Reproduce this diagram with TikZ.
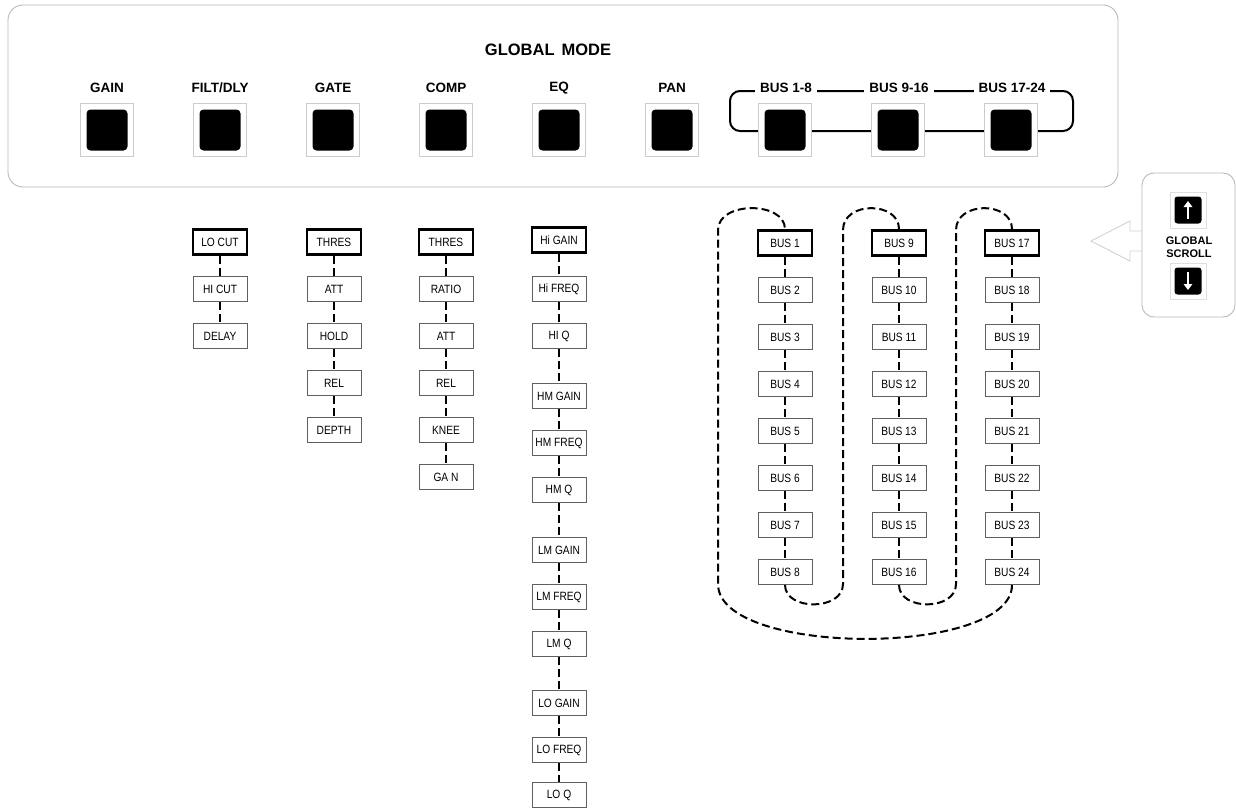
\documentclass[tikz,border=0pt]{standalone}
\usepackage{fontspec}
\setmainfont{Liberation Sans}
\newfontfamily\boxfont[FakeStretch=0.85]{Liberation Sans}
\usetikzlibrary{arrows.meta}
\begin{document}
\begin{tikzpicture}[x=1pt,y=-1pt,
 item/.style={draw=gray!75!black, line width=0.9pt, minimum width=54pt, minimum height=25pt, inner sep=0pt, fill=white, font=\boxfont\fontsize{12}{12}\selectfont},
 firstitem/.style={item, draw=black, line width=2.8pt},
 link/.style={line width=2pt, dash pattern=on 8pt off 4pt},
 hdr/.style={font=\bfseries\fontsize{13.5}{13.5}\selectfont, inner sep=1pt},
 bframe/.style={draw=gray!40, line width=0.8pt, fill=white, minimum size=53pt, inner sep=0pt},
 bkey/.style={fill=black, rounded corners=4pt, minimum size=41pt, inner sep=0pt},
 panelbox/.style={draw=gray!55, line width=0.9pt},
]
\useasboundingbox (0,0) rectangle (1236,808);

% ---------- global mode panel ----------
\draw[panelbox, rounded corners=15pt] (8,5) rectangle (1118,187);
\node[font=\bfseries\fontsize{16.5}{16.5}\selectfont] (gm) at (548,50) {GLOBAL\hspace{7pt}MODE};

% bus bracket
\draw[line width=2pt, rounded corners=10pt] (730,91) rectangle (1073,131);

\node[hdr] (lgain) at (107,88) {GAIN};
\node[hdr] (lfilt) at (220,88) {FILT/DLY};
\node[hdr] (lgate) at (333,88) {GATE};
\node[hdr] (lcomp) at (446,88) {COMP};
\node[hdr] (leq)   at (559,88) {EQ};
\node[hdr] (lpan)  at (672,88) {PAN};
\node[hdr, fill=white, inner xsep=5pt] (lb1) at (786,88) {BUS 1-8};
\node[hdr, fill=white, inner xsep=5pt] (lb2) at (899,88) {BUS 9-16};
\node[hdr, fill=white, inner xsep=5pt] (lb3) at (1012,88) {BUS 17-24};

\foreach \n/\x in {gain/107, filt/220, gate/333, comp/446, eq/559, pan/672, busa/785, busb/898, busc/1011}{
  \node[bframe] (f\n) at (\x,130) {};
  \node[bkey] (k\n) at (\x,130) {};
}

% ---------- FILT/DLY list ----------
\node[firstitem] (fl1) at (220,242) {LO CUT};
\node[item] (fl2) at (220,289) {HI CUT};
\node[item] (fl3) at (220,336) {DELAY};
\draw[link] (fl1.south) -- (fl2.north);
\draw[link] (fl2.south) -- (fl3.north);

% ---------- GATE list ----------
\node[firstitem] (g1) at (334,242) {THRES};
\node[item] (g2) at (334,289) {ATT};
\node[item] (g3) at (334,336) {HOLD};
\node[item] (g4) at (334,383) {REL};
\node[item] (g5) at (334,430) {DEPTH};
\foreach \k in {1,...,4}{\pgfmathtruncatemacro\j{\k+1}\draw[link] (g\k.south) -- (g\j.north);}

% ---------- COMP list ----------
\node[firstitem] (c1) at (446,242) {THRES};
\node[item] (c2) at (446,289) {RATIO};
\node[item] (c3) at (446,336) {ATT};
\node[item] (c4) at (446,383) {REL};
\node[item] (c5) at (446,430) {KNEE};
\node[item] (c6) at (446,477) {GA N};
\foreach \k in {1,...,5}{\pgfmathtruncatemacro\j{\k+1}\draw[link] (c\k.south) -- (c\j.north);}

% ---------- EQ list ----------
\node[firstitem] (e1) at (559,240) {Hi GAIN};
\node[item] (e2) at (559,289) {Hi FREQ};
\node[item] (e3) at (559,336) {HI Q};
\node[item] (e4) at (559,396) {HM GAIN};
\node[item] (e5) at (559,443) {HM FREQ};
\node[item] (e6) at (559,490) {HM Q};
\node[item] (e7) at (559,550) {LM GAIN};
\node[item] (e8) at (559,597) {LM FREQ};
\node[item] (e9) at (559,644) {LM Q};
\node[item] (e10) at (559,703) {LO GAIN};
\node[item] (e11) at (559,750) {LO FREQ};
\node[item] (e12) at (559,795) {LO Q};
\foreach \k in {1,...,11}{\pgfmathtruncatemacro\j{\k+1}\draw[link] (e\k.south) -- (e\j.north);}

% ---------- BUS lists ----------
\node[firstitem] (b1) at (785,243) {BUS 1};
\foreach \k in {2,...,8}{\node[item] (b\k) at (785,{243+47*(\k-1)}) {BUS \k};}
\node[firstitem] (b9) at (899,243) {BUS 9};
\foreach \k in {10,...,16}{\node[item] (b\k) at (899,{243+47*(\k-9)}) {BUS \k};}
\node[firstitem] (b17) at (1012,243) {BUS 17};
\foreach \k in {18,...,24}{\node[item] (b\k) at (1012,{243+47*(\k-17)}) {BUS \k};}
\foreach \k in {1,...,7,9,10,...,15,17,18,...,23}{\pgfmathtruncatemacro\j{\k+1}\draw[link] (b\k.south) -- (b\j.north);}

% serpentine loops
\draw[link] (b24.south) .. controls (1012,657) and (718,657) .. (718,584) -- (718,230) .. controls (718,201) and (785,201) .. (b1.north);
\draw[link] (b8.south) .. controls (785,611) and (843,611) .. (843,584) -- (843,230) .. controls (843,201) and (899,201) .. (b9.north);
\draw[link] (b16.south) .. controls (899,611) and (956,611) .. (956,584) -- (956,230) .. controls (956,201) and (1012,201) .. (b17.north);

% ---------- GLOBAL SCROLL ----------
\draw[panelbox, rounded corners=12pt] (1142,173) rectangle (1235,317);
\draw[gray!35, line width=0.9pt, line join=miter] (1142,231) -- (1130,231) -- (1130,221) -- (1091,241) -- (1130,261) -- (1130,251) -- (1142,251);
\node[draw=gray!25, line width=0.6pt, minimum size=36pt, inner sep=0pt] (sfu) at (1188,210) {};
\node[fill=black, rounded corners=3pt, minimum size=27pt, inner sep=0pt] (sku) at (1188,210) {};
\node[draw=gray!25, line width=0.6pt, minimum size=36pt, inner sep=0pt] (sfd) at (1188,281) {};
\node[fill=black, rounded corners=3pt, minimum size=27pt, inner sep=0pt] (skd) at (1188,281) {};
\draw[white, line width=2.2pt, -{Triangle[length=6pt,width=8.5pt]}] ([yshift=-9pt]sku.center) -- ([yshift=9pt]sku.center);
\draw[white, line width=2.2pt, -{Triangle[length=6pt,width=8.5pt]}] ([yshift=9pt]skd.center) -- ([yshift=-9pt]skd.center);
\node[font=\bfseries\fontsize{11}{13}\selectfont, align=center, inner sep=0pt] (gs) at (1189,247) {GLOBAL\\SCROLL};
\end{tikzpicture}
\end{document}
